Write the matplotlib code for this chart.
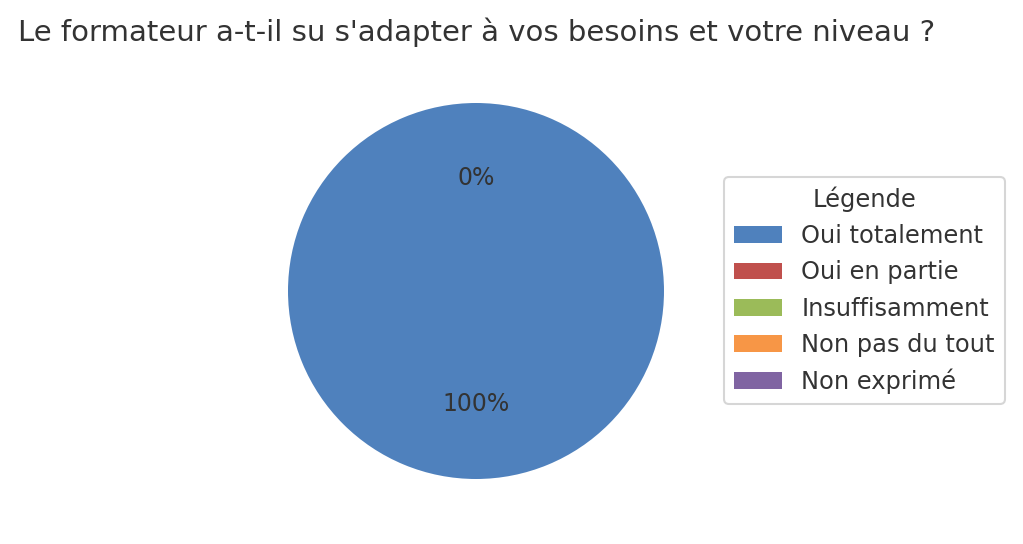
import matplotlib
matplotlib.use("Agg")
import matplotlib.pyplot as plt

title = "Le formateur a-t-il su s'adapter à vos besoins et votre niveau ?"
categories = ["Oui totalement", "Oui en partie", "Insuffisamment", "Non pas du tout", "Non exprimé"]
values = [100, 0, 0, 0, 0]
colors = ["#4F81BD", "#C0504D", "#9BBB59", "#F79646", "#8064A2"]

plt.rcParams['font.family'] = ['DejaVu Sans']
text_color = "#333333"

W, H = 1023, 544
fig = plt.figure(figsize=(W / 100, H / 100), dpi=100)
fig.patch.set_facecolor("white")

cx, cy, r = 476, 291, 188
ax = fig.add_axes([(cx - r) / W, (H - cy - r) / H, 2 * r / W, 2 * r / H])

wedges, texts, autotexts = ax.pie(
    values, colors=colors, startangle=90, autopct="%1.0f%%", pctdistance=0.6,
    textprops={"color": text_color, "fontsize": 17},
)
# the zero-valued labels sit on top of each other; draw that text once
seen = set()
for t in autotexts:
    key = (t.get_text(), round(t.get_position()[0], 3), round(t.get_position()[1], 3))
    if key in seen:
        t.set_visible(False)
    seen.add(key)

ax.set_xlim(-1, 1)
ax.set_ylim(-1, 1)
ax.set_aspect("equal")
ax.axis("off")

fig.text(18 / W, 1 - 32 / H, title, fontsize=21, color=text_color, ha="left", va="center")

leg = fig.legend(
    wedges, categories, title="Légende", loc="center left",
    bbox_to_anchor=(724 / W, 1 - 290.5 / H), bbox_transform=fig.transFigure,
    borderaxespad=0, fontsize=17.4, title_fontsize=17.4, frameon=True, fancybox=True,
)
leg.get_frame().set_edgecolor("#cccccc")
leg.get_frame().set_linewidth(1.5)
for t in leg.get_texts():
    t.set_color(text_color)
leg.get_title().set_color(text_color)

fig.savefig("out.png", dpi=100, facecolor="white")
